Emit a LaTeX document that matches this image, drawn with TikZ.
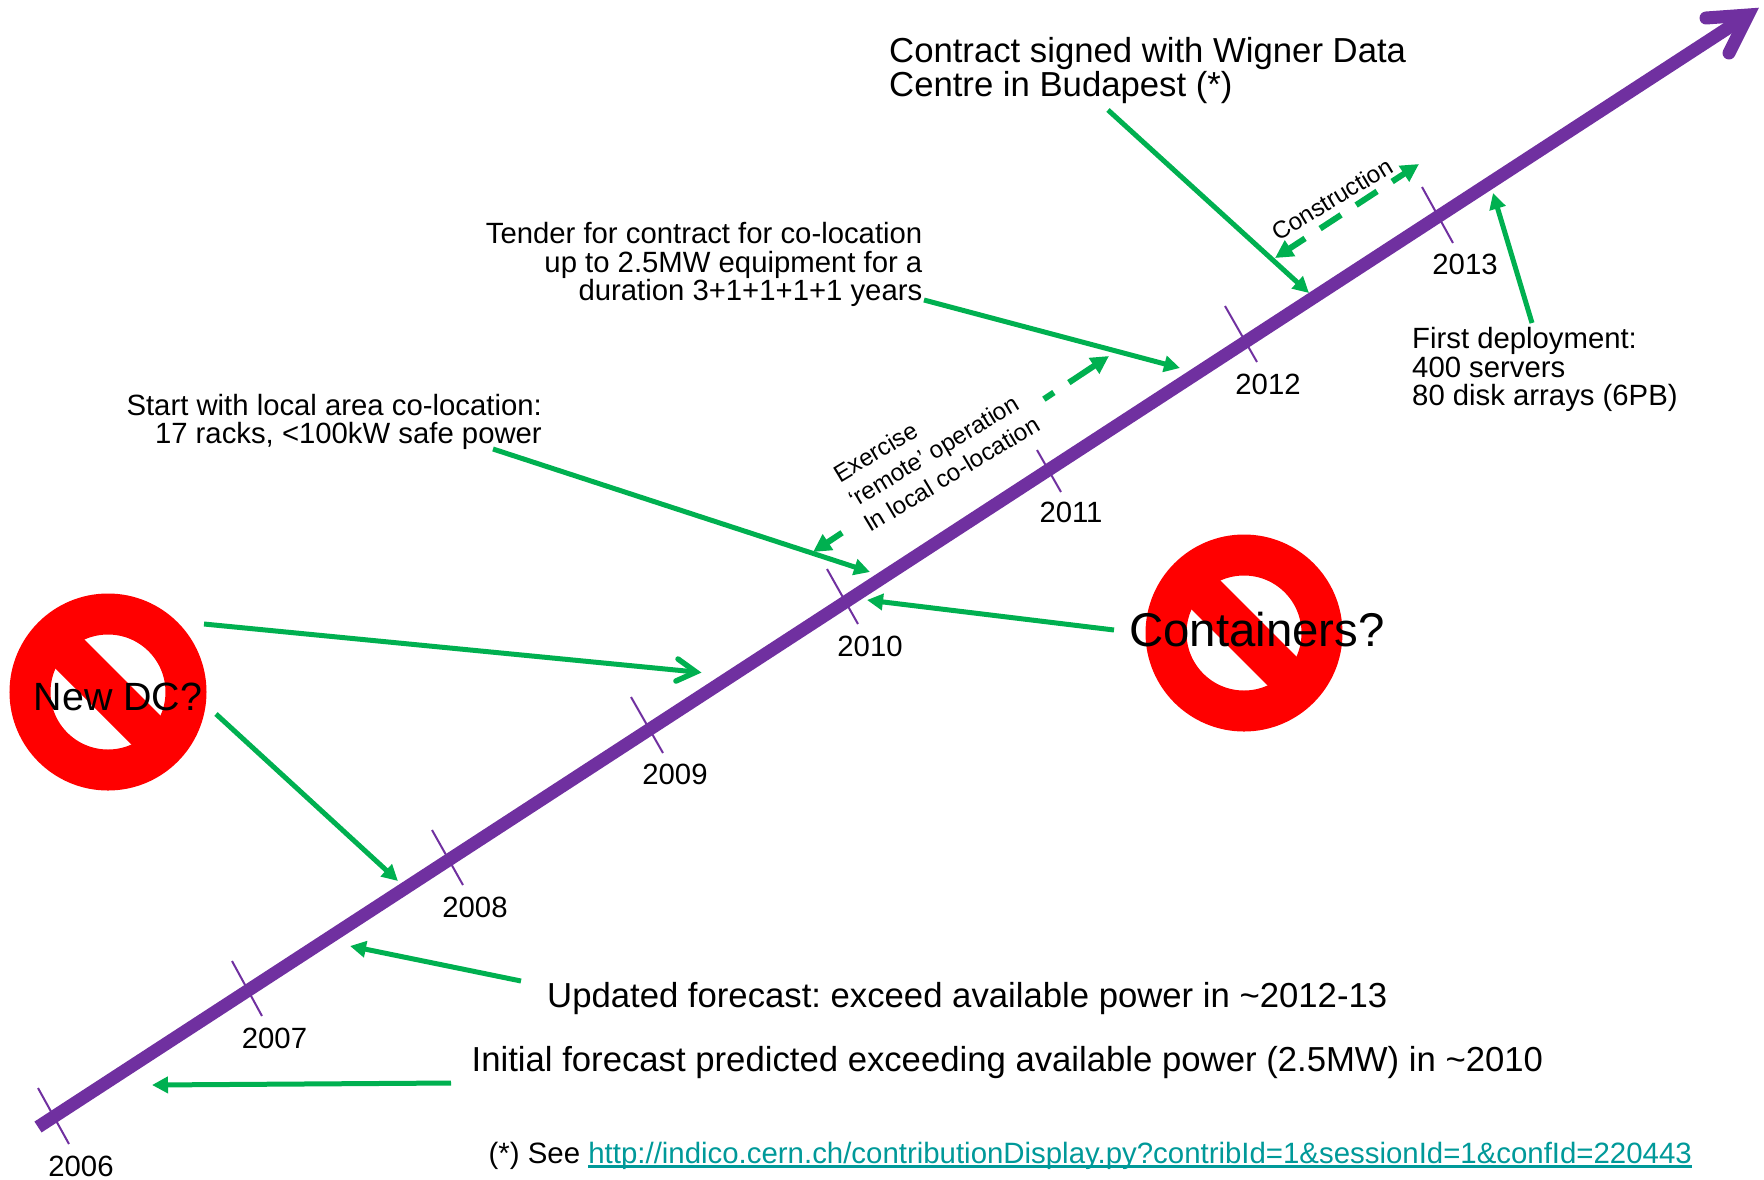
\documentclass[tikz,border=0pt]{standalone}
\usepackage{fontspec}
\setmainfont{Liberation Sans}
\usetikzlibrary{arrows.meta,calc}
\definecolor{shaftc}{RGB}{112,48,160}
\definecolor{greenc}{RGB}{0,176,80}
\definecolor{linkc}{RGB}{0,153,153}
\newcommand{\fsz}[2]{\fontsize{#1}{#2}\selectfont\frenchspacing}
\newsavebox{\linkbox}
\newcommand{\linktext}[1]{\sbox{\linkbox}{#1}\rlap{\usebox{\linkbox}}\rule[-4pt]{\wd\linkbox}{2.2pt}}
\tikzset{
  x=1pt,y=-1pt,
  shaft/.style={draw=shaftc,line width=13pt},
  tickm/.style={draw=shaftc,line width=2pt},
  year/.style={inner sep=0pt,font=\fsz{29.3}{29.3}},
  solidarrow/.style={draw=greenc,line width=5pt,-{Triangle[length=16pt,width=16pt]}},
  openline/.style={draw=greenc,line width=5pt},
  openhead/.style={draw=greenc,line width=5.5pt,line cap=round,miter limit=10},
  dasharrow/.style={draw=greenc,line width=6pt,{Triangle[length=18pt,width=18pt]}-{Triangle[length=18pt,width=18pt]}},
  lbl/.style={inner sep=0pt,align=left,font=\fsz{29.3}{28.7}},
  lblr/.style={inner sep=0pt,align=right,font=\fsz{29.3}{28.7}},
  big/.style={inner sep=0pt,font=\fsz{34.7}{33.75}},
  rotlbl/.style={inner sep=0pt,align=left,font=\fsz{24.2}{29},rotate=31},
  ring/.style={draw=red,line width=41pt},
}
\newcommand{\nosign}[3]{%
  \coordinate (#3c) at (#1,#2);
  \draw[ring] (#3c) circle[radius=78];
  \draw[ring] ($(#3c)+(-60,-60)$) -- ($(#3c)+(60,60)$);
}
\begin{document}
\begin{tikzpicture}
\useasboundingbox (0,0) rectangle (1764,1179);
% ticks
\coordinate (t6a) at (38,1088);\coordinate (t6b) at (69,1144);
\coordinate (t7a) at (232,961);\coordinate (t7b) at (262,1016);
\coordinate (t8a) at (432,830);\coordinate (t8b) at (463,885);
\coordinate (t9a) at (631,697);\coordinate (t9b) at (663,753);
\coordinate (t10a) at (827,569);\coordinate (t10b) at (858,624);
\coordinate (t11a) at (1037,450);\coordinate (t11b) at (1061,492);
\coordinate (t12a) at (1225,306);\coordinate (t12b) at (1257,362);
\coordinate (t13a) at (1422,187);\coordinate (t13b) at (1453,243);
\foreach \i in {6,7,8,9,10,11,12,13} \draw[tickm] (t\i a) -- (t\i b);
% shaft
\coordinate (s0) at (38,1127);
\coordinate (s1) at (1745,17);
\coordinate (h1) at (1706,18);
\coordinate (h2) at (1748,15);
\coordinate (h3) at (1729,53);
\draw[shaft] (s0) -- (s1);
\draw[shaft,line cap=round,miter limit=10] (h1) -- (h2) -- (h3);
% years
\node[year] (y6) at (81,1166) {2006};
\node[year] (y7) at (274.5,1038) {2007};
\node[year] (y8) at (475,907) {2008};
\node[year] (y9) at (675,774) {2009};
\node[year] (y10) at (870,646) {2010};
\node[year] (y11) at (1071,512) {2011};
\node[year] (y12) at (1268,384) {2012};
\node[year] (y13) at (1465,264) {2013};
% no signs
\nosign{108}{692}{a}
\nosign{1244}{633}{b}
\node[inner sep=0pt,font=\fsz{39.4}{40}] (newdc) at (118,697) {New DC?};
\node[inner sep=0pt,font=\fsz{47.4}{48}] (containers) at (1257,629.5) {Containers?};
% labels
\node[big,anchor=west,align=left] (contract) at (889,70.5) {Contract signed with Wigner Data\\Centre in Budapest (*)};
\node[lblr,anchor=east] (tender) at (922.5,264.5) {Tender for contract for co-location\\up to 2.5MW equipment for a\\duration 3+1+1+1+1 years};
\node[lblr,anchor=east] (start) at (542,422) {Start with local area co-location:\\17 racks, <100kW safe power};
\node[lbl,anchor=west] (first) at (1412,369.5) {First deployment:\\400 servers\\80 disk arrays (6PB)};
\node[big,anchor=west] (updated) at (547,999) {Updated forecast: exceed available power in \textasciitilde 2012-13};
\node[big,anchor=west] (initial) at (471.5,1063) {Initial forecast predicted exceeding available power (2.5MW) in \textasciitilde 2010};
\node[lbl,anchor=west,font=\fsz{29.4}{29.4}] (see) at (488.5,1156) {(*) See \textcolor{linkc}{\linktext{http://indico.cern.ch/contributionDisplay.py?contribId=1\&sessionId=1\&confId=220443}}};
\node[rotlbl] (exercise) at (936.5,449) {Exercise\\‘remote’ operation\\In local co-location};
\node[rotlbl] (construction) at (1332,199) {Construction};
% green arrows
\coordinate (e1) at (451,1083);\coordinate (e1t) at (152,1085);
\coordinate (e2) at (521,981);\coordinate (e2t) at (350,946);
\coordinate (e3) at (216,714);\coordinate (e3t) at (398,881);
\coordinate (e4) at (204,624);\coordinate (e4t) at (696,672);
\coordinate (e4a) at (678,659);\coordinate (e4b) at (676,681);
\coordinate (e5) at (493,449);\coordinate (e5t) at (870,572);
\coordinate (e6) at (1114,630);\coordinate (e6t) at (867,600);
\coordinate (e7) at (924,300);\coordinate (e7t) at (1180,368);
\coordinate (e8) at (1108,110);\coordinate (e8t) at (1309,293);
\coordinate (e9) at (1532,323);\coordinate (e9t) at (1493,193);
\foreach \i in {1,2,3,5,6,7,8,9} \draw[solidarrow] (e\i) -- (e\i t);
\draw[openline] (e4) -- (e4t);
\draw[openhead] (e4a) -- (e4t) -- (e4b);
\coordinate (c1) at (1275,258);\coordinate (c2) at (1419,164);
\draw[dasharrow,dash pattern=on 19pt off 18pt on 25pt off 18pt on 25pt off 18pt on 40pt] (c1) -- (c2);
\coordinate (r1) at (813,552);\coordinate (r2) at (1109,356);
\draw[dasharrow,dash pattern=on 18pt off 242pt on 12pt off 18pt on 40pt] (r1) -- (r2);
\end{tikzpicture}
\end{document}
